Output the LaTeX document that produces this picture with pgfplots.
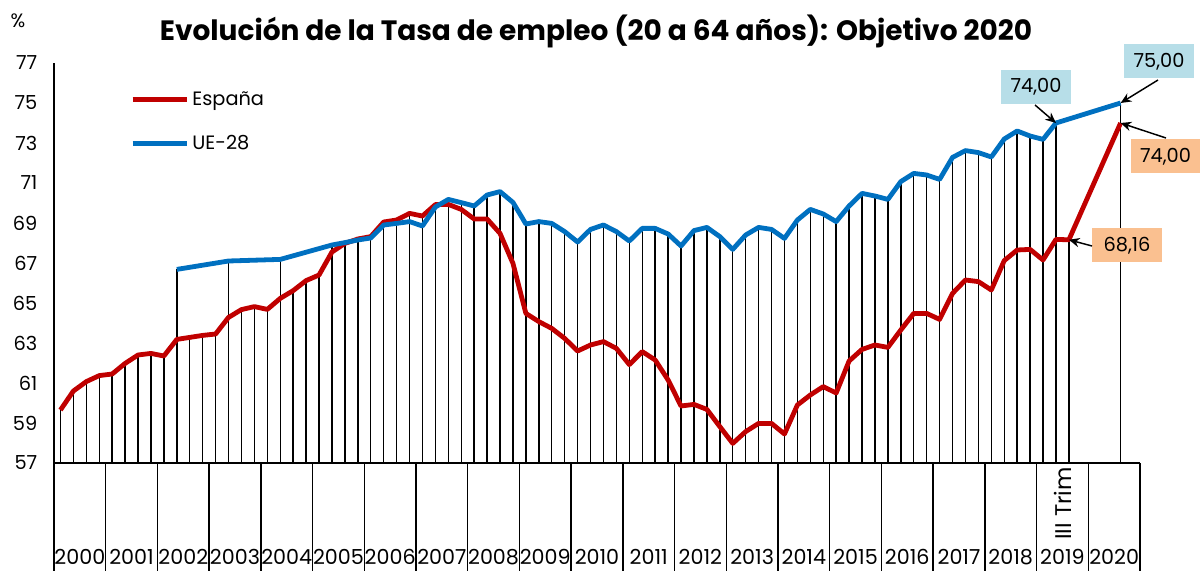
\documentclass[border=0pt]{standalone}
\usepackage{pgfplots}
\usepackage{pgfplotstable}
\pgfplotsset{compat=1.18}
\usepackage{fontspec}
\setmainfont{Poppins}
\usetikzlibrary{arrows.meta}

\definecolor{esred}{HTML}{C00000}
\definecolor{eublue}{HTML}{0070C0}
\definecolor{boxblue}{HTML}{B7DEE8}
\definecolor{boxorange}{HTML}{FAC090}

\pgfplotstableread{
x y
0 59.65
1 60.60
2 61.07
3 61.37
4 61.45
5 61.98
6 62.40
7 62.48
8 62.35
9 63.18
10 63.28
11 63.38
12 63.45
13 64.28
14 64.67
15 64.82
16 64.68
17 65.23
18 65.62
19 66.12
20 66.40
21 67.55
22 67.98
23 68.20
24 68.32
25 69.05
26 69.15
27 69.48
28 69.35
29 69.92
30 69.93
31 69.68
32 69.20
33 69.20
34 68.48
35 66.98
36 64.48
37 64.07
38 63.73
39 63.23
40 62.60
41 62.90
42 63.07
43 62.73
44 61.92
45 62.57
46 62.15
47 61.15
48 59.85
49 59.93
50 59.68
51 58.82
52 57.98
53 58.57
54 58.98
55 58.98
56 58.45
57 59.90
58 60.40
59 60.82
60 60.50
61 62.10
62 62.68
63 62.90
64 62.78
65 63.65
66 64.48
67 64.48
68 64.18
69 65.48
70 66.15
71 66.07
72 65.65
73 67.12
74 67.65
75 67.68
76 67.15
77 68.18
78 68.16
82 74.00
}\spain

\pgfplotstableread{
x y
9 66.68
13 67.10
17 67.18
21 67.90
22 68.02
23 68.15
24 68.25
25 68.90
26 68.98
27 69.07
28 68.85
29 69.80
30 70.18
31 70.02
32 69.85
33 70.40
34 70.57
35 70.03
36 68.95
37 69.07
38 68.98
39 68.57
40 68.05
41 68.68
42 68.90
43 68.57
44 68.10
45 68.73
46 68.73
47 68.45
48 67.85
49 68.62
50 68.78
51 68.32
52 67.68
53 68.40
54 68.78
55 68.68
56 68.23
57 69.15
58 69.68
59 69.45
60 69.07
61 69.85
62 70.48
63 70.35
64 70.18
65 71.07
66 71.48
67 71.40
68 71.18
69 72.28
70 72.62
71 72.52
72 72.30
73 73.20
74 73.60
75 73.35
76 73.18
77 74.00
82 75.00
}\eu

\newcommand{\lblfont}{\fontsize{14.5}{17}\selectfont}

\begin{document}
\begin{tikzpicture}[x=0.75pt,y=0.75pt]
\path[use as bounding box] (-54,-108) rectangle (1146,463);
\begin{axis}[
  at={(0,0)}, anchor=south west,
  scale only axis, width=814.5pt, height=300pt,
  xmin=-0.5, xmax=83.5, ymin=57, ymax=77,
  axis x line*=bottom, axis y line*=left,
  axis line style={line width=1.5pt, black},
  ytick={57,59,...,77},
  yticklabel style={font=\lblfont, anchor=east, xshift=-9pt},
  /pgf/number format/assume math mode=true,
  major tick length=0pt,
  xtick={1.5,5.5,...,81.5},
  xticklabels={2000,2001,2002,2003,2004,2005,2006,2007,2008,2009,2010,2011,2012,2013,2014,2015,2016,2017,2018,2019,2020},
  xticklabel style={font=\fontsize{15.5}{18}\selectfont, anchor=base, yshift=-76pt},
  extra x ticks={-0.5,3.5,...,83.5},
  extra x tick labels={},
  extra x tick style={major tick length=81pt, tick align=outside, tick style={line width=1.1pt, black}},
  legend style={at={(0.07,0.935)}, anchor=north west, draw=none, fill=none,
    font=\lblfont, row sep=17pt, inner sep=0pt},
  legend cell align=left,
  legend image code/.code={\draw[#1] (0pt,0pt) -- (41pt,0pt);},
]
\addplot[ycomb, black, line width=1.1pt, forget plot] table[x=x,y=y]{\spain};
\addplot[ycomb, black, line width=1.1pt, forget plot] table[x=x,y=y]{\eu};
\addplot[esred, line width=3.6pt, line join=round] table[x=x,y=y]{\spain};
\addlegendentry{España}
\addplot[eublue, line width=3.6pt, line join=round] table[x=x,y=y]{\eu};
\addlegendentry{UE-28}
\coordinate (b77) at (axis cs:77,74.00);
\coordinate (b82) at (axis cs:82,75.00);
\coordinate (r82) at (axis cs:82,74.00);
\coordinate (r78) at (axis cs:78,68.16);
\end{axis}
\node[font=\bfseries\fontsize{21}{24}\selectfont] at (542,432) {Evolución de la Tasa de empleo (20 a 64 años): Objetivo 2020};
\node[font=\lblfont] at (-36,442) {\%};
\node[rotate=90, font=\fontsize{17}{20}\selectfont] at (1009,-40.5) {III Trim};
\tikzset{lab/.style={minimum width=52.5pt, minimum height=25.5pt, inner sep=0pt, font=\lblfont},
  arr/.style={-{Stealth[length=8pt,width=7pt]}, line width=1.1pt, black}}
\node[lab, fill=boxblue] at (982,376) {74,00};
\draw[arr] (981,358) -- (b77);
\node[lab, fill=boxblue] at (1105,401.5) {75,00};
\draw[arr] (1104,383) -- (b82);
\node[lab, fill=boxorange] at (1111.5,306.5) {74,00};
\draw[arr] (1112,325) -- (r82);
\node[lab, fill=boxorange] at (1073,217.5) {68,16};
\draw[arr] (1038,217) -- (r78);
\end{tikzpicture}
\end{document}
